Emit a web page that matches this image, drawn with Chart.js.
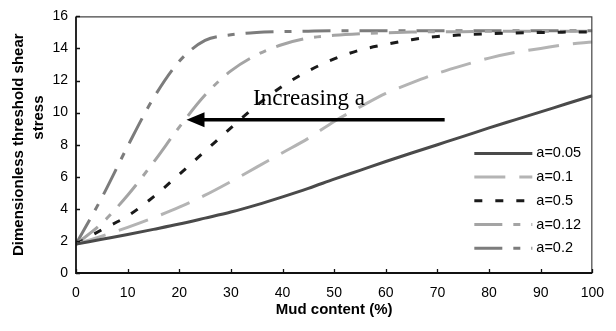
<!DOCTYPE html>
<html>
<head>
<meta charset="utf-8">
<script src="https://cdn.jsdelivr.net/npm/chart.js@4.4.1/dist/chart.umd.min.js"></script>
<style>
html,body{margin:0;padding:0;background:#fff;}
#wrap{width:616px;height:331px;position:relative;}
</style>
</head>
<body>
<div id="wrap"><canvas id="c" width="616" height="331"></canvas></div>
<script>
// ---- data ----
const mudContent = [0,5,10,15,20,25,30,35,40,45,50,55,60,65,70,75,80,85,90,95,100];
const seriesLabels = ['a=0.05','a=0.1','a=0.5','a=0.12','a=0.2'];
const tauA005 = [1.8,2.1,2.4,2.72,3.05,3.42,3.8,4.25,4.75,5.28,5.85,6.4,6.95,7.48,8.0,8.52,9.05,9.55,10.05,10.55,11.05];
const tauA01  = [1.8,2.3,2.85,3.45,4.1,4.85,5.7,6.6,7.5,8.4,9.45,10.35,11.2,11.85,12.45,12.95,13.4,13.75,14.0,14.25,14.4];
const tauA05  = [1.8,2.7,3.55,4.75,6.15,7.6,9.05,10.45,11.65,12.6,13.35,13.9,14.25,14.55,14.75,14.85,14.92,14.97,15.0,15.02,15.03];
const tauA012 = [1.8,3.1,4.85,6.9,9.1,11.1,12.6,13.6,14.25,14.65,14.82,14.92,14.98,15.02,15.05,15.05,15.07,15.08,15.08,15.08,15.08];
const tauA02  = [1.8,4.7,7.9,10.9,13.2,14.5,14.85,15.0,15.05,15.08,15.1,15.1,15.1,15.1,15.1,15.1,15.1,15.1,15.1,15.1,15.1];
const xTickValues = [0,10,20,30,40,50,60,70,80,90,100];
const yTickValues = [0,2,4,6,8,10,12,14,16];
const annotationText = 'Increasing a';
const arrowFrom = {x:71.4, y:9.55};
const arrowTo = {x:21.4, y:9.55};
const textAnchor = {x:34.3, y:10.5};

// ---- styles ----
const SANS = "'Liberation Sans', Arial, sans-serif";
const SERIF = "'Liberation Serif', 'Times New Roman', serif";
const styles = [
  {color:'#4a4a4a', dash:[]},
  {color:'#b4b4b4', dash:[31,14]},
  {color:'#1a1a1a', dash:[8,13]},
  {color:'#a4a4a4', dash:[28,11,7,11]},
  {color:'#7c7c7c', dash:[28,11,7,11]}
];
const seriesValues = [tauA005, tauA01, tauA05, tauA012, tauA02];

const datasets = seriesValues.map((vals, i) => ({
  label: seriesLabels[i],
  data: mudContent.map((x, j) => ({x: x, y: vals[j]})),
  borderColor: styles[i].color,
  borderDash: styles[i].dash,
  borderWidth: 3,
  borderCapStyle: 'butt',
  pointRadius: 0,
  fill: false,
  cubicInterpolationMode: 'monotone'
}));

const overlay = {
  id: 'overlay',
  afterDatasetsDraw(chart) {
    const ctx = chart.ctx;
    const a = chart.chartArea;
    const xs = chart.scales.x, ys = chart.scales.y;
    ctx.save();
    // frame
    ctx.setLineDash([]);
    ctx.strokeStyle = '#444';
    ctx.lineWidth = 1.2;
    ctx.beginPath();
    ctx.moveTo(a.left, a.top + 0.5); ctx.lineTo(a.right, a.top + 0.5);
    ctx.moveTo(a.right - 0.5, a.top); ctx.lineTo(a.right - 0.5, a.bottom);
    ctx.stroke();
    ctx.strokeStyle = '#111';
    ctx.lineWidth = 1.8;
    ctx.beginPath();
    ctx.moveTo(a.left, a.top); ctx.lineTo(a.left, a.bottom);
    ctx.lineTo(a.right, a.bottom);
    ctx.stroke();
    // inside ticks
    ctx.lineWidth = 1.3;
    ctx.beginPath();
    yTickValues.forEach(v => {
      const py = Math.round(ys.getPixelForValue(v)) + 0.5;
      ctx.moveTo(a.left, py); ctx.lineTo(a.left + 4, py);
    });
    xTickValues.forEach(v => {
      const px = Math.round(xs.getPixelForValue(v)) + 0.5;
      ctx.moveTo(px, a.bottom); ctx.lineTo(px, a.bottom - 4);
    });
    ctx.stroke();

    // arrow
    const x1 = xs.getPixelForValue(arrowFrom.x), y1 = ys.getPixelForValue(arrowFrom.y);
    const x2 = xs.getPixelForValue(arrowTo.x), y2 = ys.getPixelForValue(arrowTo.y);
    ctx.strokeStyle = '#000';
    ctx.fillStyle = '#000';
    ctx.lineWidth = 3.5;
    ctx.beginPath();
    ctx.moveTo(x1, y1); ctx.lineTo(x2 + 14, y2);
    ctx.stroke();
    ctx.beginPath();
    ctx.moveTo(x2, y2);
    ctx.lineTo(x2 + 18, y2 - 7.5);
    ctx.lineTo(x2 + 18, y2 + 7.5);
    ctx.closePath();
    ctx.fill();

    // text
    ctx.font = '23px ' + SERIF;
    ctx.textAlign = 'left';
    ctx.textBaseline = 'alphabetic';
    ctx.fillText(annotationText, xs.getPixelForValue(textAnchor.x), ys.getPixelForValue(textAnchor.y));

    // legend
    const lx0 = a.right - 118, lx1 = a.right - 60, tx = a.right - 56;
    const rowY0 = a.top + 137, rowStep = 23.7;
    ctx.font = '14.5px ' + SANS;
    ctx.textBaseline = 'middle';
    datasets.forEach((d, i) => {
      const yy = rowY0 + i * rowStep;
      ctx.strokeStyle = d.borderColor;
      ctx.lineWidth = 3;
      ctx.lineCap = 'butt';
      ctx.setLineDash(d.borderDash);
      ctx.beginPath();
      ctx.moveTo(lx0, yy); ctx.lineTo(lx1, yy);
      ctx.stroke();
      ctx.setLineDash([]);
      ctx.fillStyle = '#000';
      ctx.fillText(d.label, tx, yy);
    });
    ctx.restore();
  }
};

new Chart(document.getElementById('c'), {
  type: 'line',
  data: {datasets: datasets},
  options: {
    responsive: false,
    devicePixelRatio: 1,
    animation: false,
    layout: {padding: {top: 13, right: 23, left: 0, bottom: 0}},
    plugins: {legend: {display: false}, tooltip: {enabled: false}},
    scales: {
      x: {
        type: 'linear', min: 0, max: 100,
        afterBuildTicks: s => { s.ticks = xTickValues.map(v => ({value: v})); },
        ticks: {color: '#000', font: {family: SANS, size: 14}, padding: 12, maxRotation: 0, autoSkip: false},
        grid: {display: false, drawTicks: false},
        border: {display: false},
        title: {display: true, text: 'Mud content (%)', color: '#000',
                font: {family: SANS, size: 15, weight: 'bold'}, padding: {top: 0, bottom: 12}},
        afterFit: s => { s.height = 58; }
      },
      y: {
        type: 'linear', min: 0, max: 16,
        afterBuildTicks: s => { s.ticks = yTickValues.map(v => ({value: v})); },
        ticks: {color: '#000', font: {family: SANS, size: 14}, padding: 8},
        grid: {display: false, drawTicks: false},
        border: {display: false},
        title: {display: true, text: ['Dimensionless threshold shear', '             stress'], color: '#000',
                font: {family: SANS, size: 15, weight: 'bold', lineHeight: 1.34}, padding: {top: 9, bottom: 0}},
        afterFit: s => { s.width = 76; }
      }
    }
  },
  plugins: [overlay]
});
</script>
</body>
</html>
